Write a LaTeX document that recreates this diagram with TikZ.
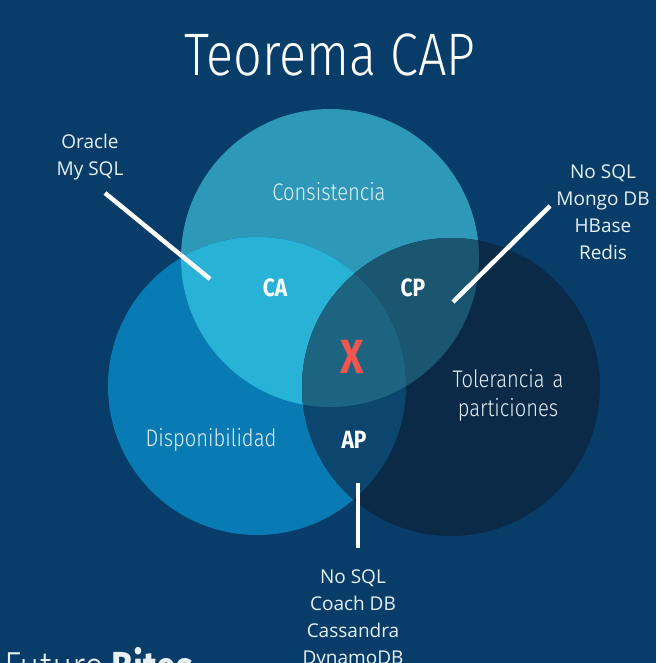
\documentclass[tikz,border=0pt]{standalone}
\usepackage{fontspec}
\setmainfont{Open Sans}
\newfontfamily\condfont[FakeStretch=0.84]{Fira Sans}
\newfontfamily\lightfont[FakeStretch=0.84]{Fira Sans Light}
\definecolor{bgc}{HTML}{083C69}
\definecolor{topc}{HTML}{2D98B8}
\definecolor{leftc}{HTML}{087AB4}
\definecolor{rightc}{HTML}{0A2A48}
\definecolor{cac}{HTML}{28B2D6}
\definecolor{cpc}{HTML}{1A5670}
\definecolor{apc}{HTML}{0C466E}
\definecolor{midc}{HTML}{1D6480}
\definecolor{xred}{HTML}{F0564F}
\definecolor{txtc}{HTML}{E6F0F5}
\tikzset{
  setlabel/.style={text=txtc, font=\lightfont\fontsize{24}{29}\selectfont, align=center, inner sep=0pt},
  pairlabel/.style={text=white, font=\condfont\bfseries\fontsize{25}{28}\selectfont, inner sep=0pt},
  dblabel/.style={text=txtc, font=\fontsize{19}{27}\selectfont, align=center, inner sep=0pt},
  pointer/.style={draw=white, line width=4.5pt}
}
\begin{document}
\begin{tikzpicture}[x=1pt,y=-1pt]
\useasboundingbox (0,0) rectangle (656,663);
\clip (0,0) rectangle (656,663);
\fill[bgc] (0,0) rectangle (656,663);
\coordinate (T) at (330,258);
\coordinate (L) at (257,386);
\coordinate (R) at (451,387);
\fill[topc] (T) circle (149pt);
\fill[leftc] (L) circle (149pt);
\fill[rightc] (R) circle (149pt);
\begin{scope}\clip (T) circle (149pt); \fill[cac] (L) circle (149pt);\end{scope}
\begin{scope}\clip (T) circle (149pt); \fill[cpc] (R) circle (149pt);\end{scope}
\begin{scope}\clip (L) circle (149pt); \fill[apc] (R) circle (149pt);\end{scope}
\begin{scope}\clip (T) circle (149pt); \clip (L) circle (149pt); \fill[midc] (R) circle (149pt);\end{scope}

\node[text=white, font=\lightfont\fontsize{60}{64}\selectfont, inner sep=0pt] (title) at (330,55) {Teorema CAP};

\node[setlabel] (cons) at (329,192) {Consistencia};
\node[setlabel] (disp) at (211,440) {Disponibilidad};
\node[setlabel, text width=140pt] (tol) at (508,395) {Tolerancia a\\particiones};

\node[pairlabel] (ca) at (275,288) {CA};
\node[pairlabel] (cp) at (413,288) {CP};
\node[pairlabel] (ap) at (354,440) {AP};
\node[text=xred, font=\condfont\bfseries\fontsize{48}{52}\selectfont, inner sep=0pt] (x) at (352,357) {X};

\node[dblabel] (dbca) at (90,157) {Oracle\\My SQL};
\node[dblabel] (dbcp) at (603,212) {No SQL\\Mongo DB\\HBase\\Redis};
\node[dblabel, anchor=north] (dbap) at (353,570) {No SQL\\Coach DB\\Cassandra\\DynamoDB};

\coordinate (caA) at (105,193);
\coordinate (caB) at (210,279);
\coordinate (cpA) at (550,206);
\coordinate (cpB) at (453,302);
\coordinate (apA) at (358,483);
\coordinate (apB) at (358,548);
\draw[pointer] (caA) -- (caB);
\draw[pointer] (cpA) -- (cpB);
\draw[pointer] (apA) -- (apB);

\node[anchor=base west, inner sep=0pt, text=txtc, font=\fontsize{42}{44}\selectfont] (logo) at (4,681) {\lightfont Futuro\,\condfont\textbf{Bites}};
\end{tikzpicture}
\end{document}
